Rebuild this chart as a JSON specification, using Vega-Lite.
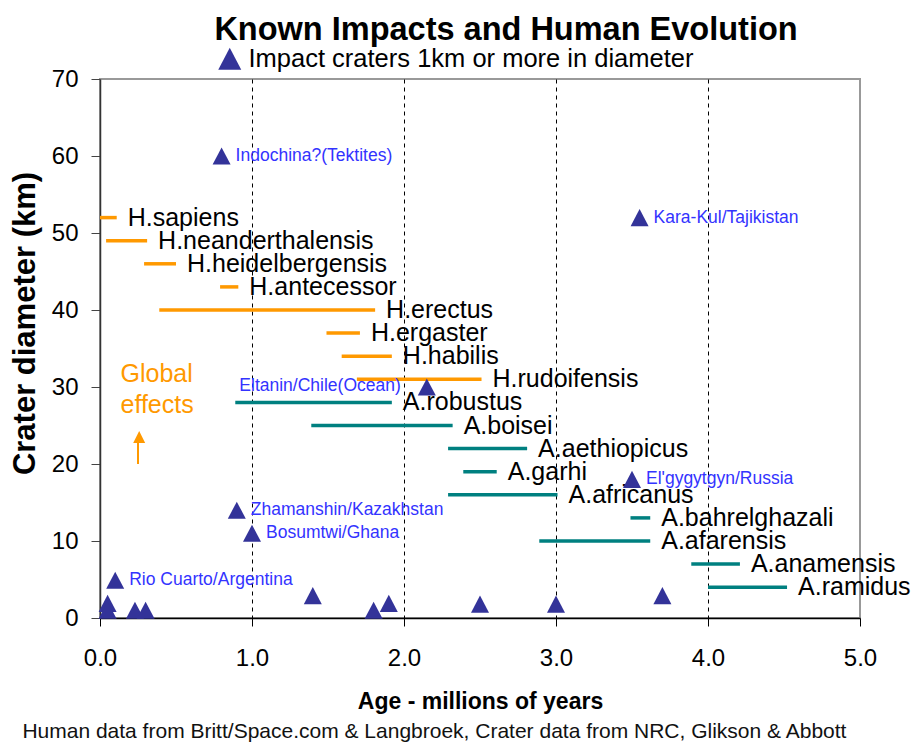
{
  "$schema": "https://vega.github.io/schema/vega-lite/v6.json",
  "width": 760,
  "height": 539,
  "autosize": {"type": "none"},
  "padding": {"left": 100, "top": 79, "right": 55, "bottom": 124},
  "background": "white",
  "title": {
    "text": "Known Impacts and Human Evolution",
    "font": "Liberation Sans",
    "fontSize": 32.5,
    "fontWeight": "bold",
    "color": "#000000",
    "anchor": "middle",
    "dx": 26,
    "offset": 0
  },
  "config": {
    "font": "Liberation Sans",
    "view": {"stroke": "#999999", "strokeWidth": 2},
    "axis": {"labelFont": "Liberation Sans", "titleFont": "Liberation Sans", "labelColor": "#000000", "titleColor": "#000000"}
  },
  "datasets": {
    "species": [
      {"name": "H.sapiens", "start": 0.0, "end": 0.11, "y": 52, "genus": "Homo"},
      {"name": "H.neanderthalensis", "start": 0.04, "end": 0.31, "y": 49, "genus": "Homo"},
      {"name": "H.heidelbergensis", "start": 0.29, "end": 0.5, "y": 46, "genus": "Homo"},
      {"name": "H.antecessor", "start": 0.79, "end": 0.91, "y": 43, "genus": "Homo"},
      {"name": "H.erectus", "start": 0.39, "end": 1.81, "y": 40, "genus": "Homo"},
      {"name": "H.ergaster", "start": 1.49, "end": 1.71, "y": 37, "genus": "Homo"},
      {"name": "H.habilis", "start": 1.59, "end": 1.92, "y": 34, "genus": "Homo"},
      {"name": "H.rudoifensis", "start": 1.69, "end": 2.51, "y": 31, "genus": "Homo"},
      {"name": "A.robustus", "start": 0.89, "end": 1.92, "y": 28, "genus": "Australopithecus"},
      {"name": "A.boisei", "start": 1.39, "end": 2.32, "y": 25, "genus": "Australopithecus"},
      {"name": "A.aethiopicus", "start": 2.29, "end": 2.81, "y": 22, "genus": "Australopithecus"},
      {"name": "A.garhi", "start": 2.39, "end": 2.61, "y": 19, "genus": "Australopithecus"},
      {"name": "A.africanus", "start": 2.29, "end": 3.01, "y": 16, "genus": "Australopithecus"},
      {"name": "A.bahrelghazali", "start": 3.49, "end": 3.62, "y": 13, "genus": "Australopithecus"},
      {"name": "A.afarensis", "start": 2.89, "end": 3.62, "y": 10, "genus": "Australopithecus"},
      {"name": "A.anamensis", "start": 3.89, "end": 4.21, "y": 7, "genus": "Australopithecus"},
      {"name": "A.ramidus", "start": 4.0, "end": 4.52, "y": 4, "genus": "Australopithecus"}
    ],
    "craters": [
      {"age": 0.8, "d": 60, "name": "Indochina?(Tektites)"},
      {"age": 3.55, "d": 52, "name": "Kara-Kul/Tajikistan"},
      {"age": 2.15, "d": 30, "name": "Eltanin/Chile(Ocean)"},
      {"age": 3.5, "d": 18, "name": "El'gygytgyn/Russia"},
      {"age": 0.9, "d": 14, "name": "Zhamanshin/Kazakhstan"},
      {"age": 1.0, "d": 11, "name": "Bosumtwi/Ghana"},
      {"age": 0.1, "d": 4.9, "name": "Rio Cuarto/Argentina"},
      {"age": 0.05, "d": 1.9, "name": ""},
      {"age": 0.05, "d": 1.0, "name": ""},
      {"age": 0.23, "d": 1.0, "name": ""},
      {"age": 0.3, "d": 1.0, "name": ""},
      {"age": 1.4, "d": 2.9, "name": ""},
      {"age": 1.8, "d": 1.0, "name": ""},
      {"age": 1.9, "d": 1.9, "name": ""},
      {"age": 2.5, "d": 1.8, "name": ""},
      {"age": 3.0, "d": 1.8, "name": ""},
      {"age": 3.7, "d": 2.9, "name": ""}
    ],
    "notes": [
      {"x": 0.135, "y": 30.7, "text": "Global\neffects"}
    ],
    "arrow": [
      {"x": 0.25, "y0": 20, "y1": 22.8, "tipx": 0.258, "tipy": 23.5}
    ],
    "footer": [
      {"x": 2.2, "y": -15.64, "text": "Human data from Britt/Space.com & Langbroek, Crater data from NRC, Glikson & Abbott"}
    ]
  },
  "layer": [
    {
      "data": {"name": "species"},
      "mark": {"type": "rule", "strokeWidth": 0, "opacity": 0},
      "encoding": {
        "x": {
          "field": "start", "type": "quantitative",
          "scale": {"domain": [0, 5], "nice": false, "zero": false},
          "axis": {
            "values": [0, 1, 2, 3, 4, 5],
            "format": ".1f",
            "labelFlush": false,
            "labelOverlap": false,
            "grid": true,
            "gridDash": [4, 4],
            "gridColor": {"condition": {"test": "datum.value <= 0 || datum.value >= 5", "value": "transparent"}, "value": "#000000"},
            "gridWidth": 1,
            "domainColor": "#000000",
            "domainWidth": 1.5,
            "tickColor": "#000000",
            "tickSize": 8,
            "tickWidth": 1,
            "labelFontSize": 24,
            "labelPadding": 20,
            "title": "Age - millions of years",
            "titleFontSize": 23,
            "titleFontWeight": "bold",
            "titleBaseline": "alphabetic",
            "titleY": 90
          }
        },
        "y": {
          "field": "y", "type": "quantitative",
          "scale": {"domain": [0, 70], "nice": false, "zero": false},
          "axis": {
            "values": [0, 10, 20, 30, 40, 50, 60, 70],
            "format": "d",
            "labelFlush": false,
            "labelOverlap": false,
            "grid": false,
            "domainColor": "#333333",
            "domainWidth": 1.5,
            "tickColor": "#444444",
            "tickSize": 9,
            "tickWidth": 1,
            "labelFontSize": 24,
            "labelPadding": 13,
            "title": "Crater diameter (km)",
            "titleFontSize": 31,
            "titleFontWeight": "bold",
            "titleAngle": -90,
            "titleAlign": "center",
            "titleBaseline": "alphabetic",
            "titleX": -66,
            "titleY": 244
          }
        }
      }
    },
    {
      "mark": {"type": "rule", "color": "#FF9900", "strokeWidth": 1.5, "strokeDash": [6, 4]},
      "encoding": {"y": {"datum": 20}}
    },
    {
      "data": {"name": "species"},
      "mark": {"type": "rule", "strokeWidth": 3.5, "strokeCap": "butt"},
      "encoding": {
        "x": {"field": "start", "type": "quantitative"},
        "x2": {"field": "end"},
        "y": {"field": "y", "type": "quantitative"},
        "color": {"field": "genus", "type": "nominal", "scale": {"domain": ["Homo", "Australopithecus"], "range": ["#FF9900", "#008080"]}, "legend": null}
      }
    },
    {
      "data": {"name": "species"},
      "mark": {"type": "text", "align": "left", "baseline": "middle", "dx": 11, "fontSize": 25, "font": "Liberation Sans", "color": "#000000"},
      "encoding": {
        "x": {"field": "end", "type": "quantitative"},
        "y": {"field": "y", "type": "quantitative"},
        "text": {"field": "name"}
      }
    },
    {
      "data": {"name": "notes"},
      "mark": {"type": "text", "align": "left", "baseline": "alphabetic", "fontSize": 25, "font": "Liberation Sans", "color": "#FF9900", "lineBreak": "\n", "lineHeight": 31.6},
      "encoding": {
        "x": {"field": "x", "type": "quantitative"},
        "y": {"field": "y", "type": "quantitative"},
        "text": {"field": "text"}
      }
    },
    {
      "data": {"name": "arrow"},
      "mark": {"type": "rule", "color": "#FF9900", "strokeWidth": 2},
      "encoding": {
        "x": {"field": "x", "type": "quantitative"},
        "y": {"field": "y0", "type": "quantitative"},
        "y2": {"field": "y1"}
      }
    },
    {
      "data": {"name": "arrow"},
      "mark": {"type": "point", "filled": true, "opacity": 1, "color": "#FF9900", "size": 144, "shape": "M0,-1L1,1L-1,1Z", "strokeWidth": 0},
      "encoding": {
        "x": {"field": "tipx", "type": "quantitative"},
        "y": {"field": "tipy", "type": "quantitative"}
      }
    },
    {
      "data": {"name": "craters"},
      "transform": [{"filter": "datum.name !== '' && datum.name !== 'Eltanin/Chile(Ocean)'"}],
      "mark": {"type": "text", "align": "left", "baseline": "middle", "dx": 14, "fontSize": 17.5, "font": "Liberation Sans", "color": "#3333FF"},
      "encoding": {
        "x": {"field": "age", "type": "quantitative"},
        "y": {"field": "d", "type": "quantitative"},
        "text": {"field": "name"}
      }
    },
    {
      "data": {"name": "craters"},
      "transform": [{"filter": "datum.name === 'Eltanin/Chile(Ocean)'"}],
      "mark": {"type": "text", "align": "right", "baseline": "middle", "dx": -26, "dy": -1, "fontSize": 17.5, "font": "Liberation Sans", "color": "#3333FF"},
      "encoding": {
        "x": {"field": "age", "type": "quantitative"},
        "y": {"field": "d", "type": "quantitative"},
        "text": {"field": "name"}
      }
    },
    {
      "data": {"name": "craters"},
      "mark": {"type": "point", "filled": true, "opacity": 1, "color": "#333399", "size": 324, "strokeWidth": 0},
      "encoding": {
        "x": {"field": "age", "type": "quantitative"},
        "y": {"field": "d", "type": "quantitative"},
        "shape": {
          "datum": "Impact craters 1km or more in diameter",
          "scale": {"range": ["M0,-0.95L1,0.95L-1,0.95Z"]},
          "legend": {
            "orient": "none",
            "legendX": 117,
            "legendY": -33,
            "title": null,
            "padding": 0,
            "symbolSize": 529,
            "symbolFillColor": "#333399",
            "symbolStrokeWidth": 0,
            "labelFont": "Liberation Sans",
            "labelFontSize": 25.5,
            "labelColor": "#000000",
            "labelOffset": 6,
            "labelLimit": 0
          }
        }
      }
    },
    {
      "data": {"name": "footer"},
      "mark": {"type": "text", "align": "center", "baseline": "alphabetic", "fontSize": 21, "font": "Liberation Sans", "color": "#111111"},
      "encoding": {
        "x": {"field": "x", "type": "quantitative"},
        "y": {"field": "y", "type": "quantitative"},
        "text": {"field": "text"}
      }
    }
  ]
}
